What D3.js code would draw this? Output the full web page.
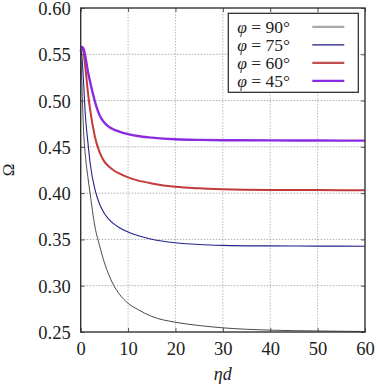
<!DOCTYPE html>
<html>
<head>
<meta charset="utf-8">
<script src="https://cdn.jsdelivr.net/npm/d3@7"></script>
<style>
  body { margin: 0; background: #fff; }
</style>
</head>
<body>
<svg id="chart" width="377" height="386"></svg>
<script>
// eta*d values shared by all curves
const etaD = [0, 0.3, 0.6, 1, 1.5, 2, 3, 4, 5, 6, 7, 8, 10, 12, 15, 20, 25, 30, 40, 50, 60];

const omega90 = [0.557, 0.510, 0.468, 0.440, 0.418, 0.399, 0.364, 0.343, 0.325, 0.311, 0.300, 0.292, 0.281, 0.2745, 0.2668, 0.2605, 0.257, 0.2545, 0.252, 0.2511, 0.2505];
const omega75 = [0.557, 0.545, 0.520, 0.483, 0.456, 0.432, 0.404, 0.388, 0.378, 0.3715, 0.3668, 0.3632, 0.358, 0.3542, 0.3502, 0.3464, 0.3445, 0.3436, 0.343, 0.3428, 0.3427];
const omega60 = [0.556, 0.558, 0.552, 0.535, 0.510, 0.490, 0.461, 0.444, 0.434, 0.4285, 0.4245, 0.4215, 0.417, 0.4138, 0.4105, 0.4068, 0.4052, 0.4043, 0.4035, 0.4033, 0.4032];
const omega45 = [0.553, 0.558, 0.556, 0.547, 0.532, 0.520, 0.499, 0.484, 0.476, 0.4715, 0.4687, 0.4667, 0.4637, 0.4617, 0.4600, 0.4582, 0.4575, 0.4572, 0.457, 0.4568, 0.4567];

const seriesNames = ["90°", "75°", "60°", "45°"];
const seriesValues = [omega90, omega75, omega60, omega45];
const lineColors = ["#4a4a4a", "#23238c", "#c43a3a", "#8a2be2"];
const legendColors = ["#a8a8a8", "#1a1a80", "#c05050", "#8a2be2"];
const lineWidths = [1, 1.1, 2, 2.4];

const xTicks = [0, 10, 20, 30, 40, 50, 60];
const yTicks = [0.25, 0.30, 0.35, 0.40, 0.45, 0.50, 0.55, 0.60];

const serif = "'Liberation Serif', 'Times New Roman', Times, 'DejaVu Serif', 'Noto Serif', Georgia, serif";

const margin = { top: 8, right: 12, bottom: 54, left: 80.7 },
      width = 377 - margin.left - margin.right,
      height = 386 - margin.top - margin.bottom;

const svg = d3.select("#chart")
  .attr("font-family", serif)
  .append("g")
  .attr("transform", `translate(${margin.left},${margin.top})`);

const xScale = d3.scaleLinear().domain([0, 60]).range([0, width]);
const yScale = d3.scaleLinear().domain([0.25, 0.60]).range([height, 0]);

// grid lines
svg.append("g").selectAll("line")
  .data(xTicks.slice(1, -1))
  .enter().append("line")
    .attr("x1", d => xScale(d)).attr("x2", d => xScale(d))
    .attr("y1", 0).attr("y2", height)
    .attr("stroke", "#aaa").attr("stroke-width", 0.8)
    .attr("stroke-dasharray", "1.5,1.5");

svg.append("g").selectAll("line")
  .data(yTicks.slice(1, -1))
  .enter().append("line")
    .attr("x1", 0).attr("x2", width)
    .attr("y1", d => yScale(d)).attr("y2", d => yScale(d))
    .attr("stroke", "#999").attr("stroke-width", 0.8)
    .attr("stroke-dasharray", "1.5,1.5");

// axes with inward ticks on all sides
const fmtY = d3.format(".2f");
const bottomAxis = svg.append("g")
  .attr("transform", `translate(0,${height})`)
  .call(d3.axisBottom(xScale).tickValues(xTicks).tickSizeInner(-4).tickSizeOuter(0).tickPadding(10));
const leftAxis = svg.append("g")
  .call(d3.axisLeft(yScale).tickValues(yTicks).tickFormat(fmtY).tickSizeInner(-4).tickSizeOuter(0).tickPadding(10));
const topAxis = svg.append("g")
  .call(d3.axisTop(xScale).tickValues(xTicks).tickSizeInner(-4).tickSizeOuter(0).tickFormat(""));
const rightAxis = svg.append("g")
  .attr("transform", `translate(${width},0)`)
  .call(d3.axisRight(yScale).tickValues(yTicks).tickSizeInner(-4).tickSizeOuter(0).tickFormat(""));

[bottomAxis, leftAxis, topAxis, rightAxis].forEach(ax => {
  ax.attr("font-family", serif);
  ax.select(".domain").remove();
  ax.selectAll(".tick line").attr("stroke", "#555");
  ax.selectAll("text").attr("font-size", 18.5).attr("fill", "#222");
});
leftAxis.selectAll("text").attr("dy", "0.35em");
bottomAxis.selectAll("text").attr("dy", "0.7em");

// curves
const line = d3.line()
  .x(d => xScale(d[0]))
  .y(d => yScale(d[1]))
  .curve(d3.curveMonotoneX);

svg.append("g").selectAll("path")
  .data(seriesValues)
  .enter().append("path")
    .attr("fill", "none")
    .attr("stroke", (d, i) => lineColors[i])
    .attr("stroke-width", (d, i) => lineWidths[i])
    .attr("d", d => line(d.map((v, j) => [etaD[j], v])));

// frame
svg.append("rect")
  .attr("width", width).attr("height", height)
  .attr("fill", "none").attr("stroke", "#333").attr("stroke-width", 1.4);

// legend
const legend = svg.append("g").attr("transform", `translate(${228.3 - margin.left},${13.3 - margin.top})`);
legend.append("rect")
  .attr("width", 130).attr("height", 79)
  .attr("fill", "#fff").attr("stroke", "#222").attr("stroke-width", 1.2);

const items = legend.selectAll(".item")
  .data(seriesNames)
  .enter().append("g")
    .attr("class", "item")
    .attr("transform", (d, i) => `translate(0,${13.5 + i * 18})`);

const labels = items.append("text")
  .attr("x", 9).attr("y", 6)
  .attr("font-size", 17.5)
  .attr("fill", "#222");
labels.append("tspan").attr("font-style", "italic").text("φ");
labels.append("tspan").text(d => " = " + d);

items.append("line")
  .attr("x1", 84).attr("x2", 116)
  .attr("y1", 0).attr("y2", 0)
  .attr("stroke", (d, i) => legendColors[i])
  .attr("stroke-width", (d, i) => i == 1 ? 1.3 : 2.2);

// axis labels
svg.append("text")
  .attr("transform", `translate(${-margin.left + 8},${height / 2}) rotate(-90)`)
  .attr("text-anchor", "middle")
  .attr("dy", "0.35em")
  .attr("font-size", 17)
  .attr("fill", "#222")
  .text("Ω");

svg.append("text")
  .attr("x", width / 2).attr("y", height + 48)
  .attr("text-anchor", "middle")
  .attr("font-size", 18)
  .attr("font-style", "italic")
  .attr("fill", "#222")
  .text("ηd");
</script>
</body>
</html>
